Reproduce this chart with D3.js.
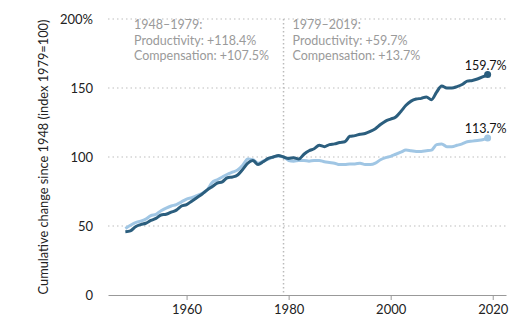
<!DOCTYPE html>
<html>
<head>
<meta charset="utf-8">
<script src="https://cdn.jsdelivr.net/npm/d3@7"></script>
<style>
  body { margin: 0; background: #fff; }
  svg { font-family: Lato, "Open Sans", sans-serif; }
</style>
</head>
<body>
<svg id="chart" width="528" height="323"></svg>
<script>
// data, index 1979=100
var years = d3.range(1948, 2020);
var productivity = [
  45.8, 46.5, 49.5, 51, 52, 54, 55.5, 58, 58.5, 60,
  61.5, 64.5, 65.5, 68, 70.5, 73, 76, 78.5, 81, 82,
  85, 85.5, 87, 91, 95.5, 97.5, 94.5, 96.5, 99, 100,
  101, 100, 99, 99.5, 98.5, 102, 104.5, 106, 108.5, 107.5,
  109, 109.5, 110.5, 111, 115, 115.5, 116.5, 117, 118.5, 120.5,
  123.5, 126, 127.5, 129, 133, 137.5, 140.5, 142, 142.5, 143.5,
  141.5, 147, 151.5, 150, 150, 151, 152.5, 155, 155.5, 156.5,
  158, 159.7
];
var compensation = [
  48.2, 50.5, 52.5, 53.5, 55, 57.5, 58.5, 61, 63, 64.5,
  65.5, 67.5, 69.5, 70.5, 72, 73.5, 76, 81.5, 83.5, 85.5,
  87.5, 89, 90.5, 94, 98.5, 98, 95.5, 97, 98.5, 100,
  100.5, 100, 97.5, 97, 97.5, 97.5, 97, 97.5, 97.5, 96.5,
  96, 95.5, 94.5, 94.5, 95, 95, 95.5, 94.5, 94.5, 95.5,
  98, 99.5, 100.5, 102, 103.5, 105, 104.5, 104, 104, 104.5,
  105, 109, 109.5, 107.5, 107.5, 108.5, 109.5, 111, 111.5, 112,
  112.5, 113.7
];
var yTicks = [0, 50, 100, 150, 200];
var xTicks = [1960, 1980, 2000, 2020];
var notes = [
  {year: 1948, lines: ["1948–1979:", "Productivity: +118.4%", "Compensation: +107.5%"]},
  {year: 1979, lines: ["1979–2019:", "Productivity: +59.7%", "Compensation: +13.7%"]}
];

function drawChart() {
  var color = {
    prod: "#2b5e7e",
    comp: "#a0c6e4",
    grid: "#d4d4d4",
    note: "#9a9a9a"
  };

  var svg = d3.select("#chart");
  var pad = {left: 108, right: 506, top: 19, bottom: 295};

  var x = d3.scaleLinear().domain([1944.6, 2022.6]).range([pad.left, pad.right]);
  var y = d3.scaleLinear().domain([0, 200]).range([pad.bottom, pad.top]);

  // grid
  svg.append("g").selectAll("line")
    .data(yTicks.filter(function (d) { return d > 0; }))
    .enter().append("line")
    .attr("x1", pad.left).attr("x2", pad.right)
    .attr("y1", function (d) { return y(d); })
    .attr("y2", function (d) { return y(d); })
    .style("stroke", color.grid)
    .style("stroke-width", 1.5)
    .style("stroke-dasharray", "1.5,3");

  // y labels
  svg.append("g").selectAll("text")
    .data(yTicks)
    .enter().append("text")
    .attr("x", 93)
    .attr("y", function (d) { return y(d); })
    .attr("dy", "0.35em")
    .attr("text-anchor", "end")
    .style("font-size", "13px")
    .style("fill", "#222")
    .text(function (d) { return d === 200 ? d + "%" : d; });

  // y title
  svg.append("text")
    .attr("transform", "translate(48," + ((pad.top + pad.bottom) / 2) + ") rotate(-90)")
    .attr("text-anchor", "middle")
    .style("font-size", "12.8px")
    .style("fill", "#222")
    .text("Cumulative change since 1948 (index 1979=100)");

  // x axis
  var xAxis = d3.axisBottom(x).tickValues(xTicks).tickFormat(d3.format("d")).tickSize(5).tickSizeOuter(0);
  var gx = svg.append("g").attr("transform", "translate(0," + pad.bottom + ")").call(xAxis);
  gx.select(".domain").style("stroke", "#999");
  gx.selectAll(".tick line").style("stroke", "#999");
  gx.selectAll(".tick text")
    .style("font-size", "13px")
    .style("fill", "#222")
    .style("font-family", "Lato, 'Open Sans', sans-serif")
    .attr("dy", "0.85em");

  // 1979 divider
  svg.append("line")
    .attr("x1", x(1979)).attr("x2", x(1979))
    .attr("y1", pad.top).attr("y2", pad.bottom)
    .style("stroke", "#bbb")
    .style("stroke-width", 1.5)
    .style("stroke-dasharray", "1.5,2.5");

  // notes
  notes.forEach(function (n, i) {
    var nx = i === 0 ? 134 : x(n.year) + 9;
    var t = svg.append("text")
      .attr("x", nx)
      .attr("y", 29)
      .style("font-size", "12.5px")
      .style("fill", color.note);
    t.selectAll("tspan")
      .data(n.lines)
      .enter().append("tspan")
      .attr("x", nx)
      .attr("dy", function (d, j) { return j === 0 ? 0 : 15.5; })
      .text(function (d) { return d; });
  });

  var line = d3.line()
    .x(function (d, i) { return x(years[i]); })
    .y(function (d) { return y(d); })
    .curve(d3.curveMonotoneX);

  var series = [
    {values: compensation, c: color.comp},
    {values: productivity, c: color.prod}
  ];

  series.forEach(function (s) {
    svg.append("path")
      .datum(s.values)
      .attr("d", line)
      .style("fill", "none")
      .style("stroke", s.c)
      .style("stroke-width", 3)
      .style("stroke-linejoin", "round");

    var last = s.values[s.values.length - 1];
    var lx = x(years[years.length - 1]);
    svg.append("circle")
      .attr("cx", lx)
      .attr("cy", y(last))
      .attr("r", 3.5)
      .style("fill", s.c);

    svg.append("text")
      .attr("x", lx - 2)
      .attr("y", y(last) - 5)
      .attr("text-anchor", "middle")
      .style("font-size", "12.5px")
      .style("fill", "#111")
      .text(last.toFixed(1) + "%");
  });
}
drawChart();
</script>
</body>
</html>
